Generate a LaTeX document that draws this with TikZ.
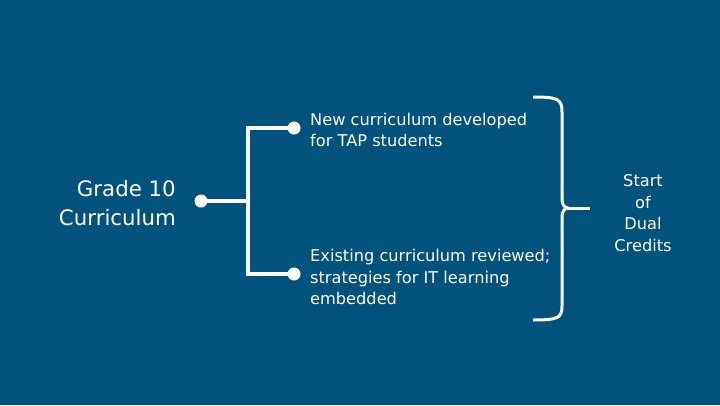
\documentclass[tikz,border=0pt]{standalone}
\usepackage{fontspec}
\setmainfont{DejaVu Sans}
\usepackage{tikz}
\definecolor{slate}{RGB}{1,82,125}
\tikzset{
  dot/.style={circle, fill=white, inner sep=0pt, minimum size=13pt},
  link/.style={white, line width=4pt},
  txt/.style={text=white, font=\fontsize{16.2}{21.5}\selectfont, inner sep=0pt}
}
\begin{document}
\begin{tikzpicture}[x=1pt, y=-1pt]
  \fill[slate] (0,0) rectangle (720,405);
  \useasboundingbox (0,0) rectangle (720,405);
  \node [dot] (root) at (201,201) {};
  \node [dot] (top) at (294,128) {};
  \node [dot] (bot) at (294,274) {};
  \coordinate (fork) at (248,201);
  \draw[link] (root.center) -- (fork) |- (top.center);
  \draw[link] (fork) |- (bot.center);
  \node [txt, font=\fontsize{21.3}{29}\selectfont, align=right, anchor=east] (grade) at (176,203) {Grade 10\\Curriculum};
  \node [txt, align=left, anchor=west] (new) at (310,130) {New curriculum developed\\for TAP students};
  \node [txt, align=left, anchor=west] (old) at (310,277) {Existing curriculum reviewed;\\strategies for IT learning\\embedded};
  \node [txt, align=center] (dual) at (643,213) {Start\\of\\Dual\\Credits};
  \draw[white, line width=3pt, line join=round]
    (533,97) .. controls (558,97) and (562,99) .. (562,112) -- (562,198)
    .. controls (562,205) and (564,207) .. (568,208) .. controls (564,209) and (562,211) .. (562,218)
    -- (562,306) .. controls (562,318) and (558,320) .. (533,320);
  \draw[white, line width=3pt] (566,208) -- (590,208);
\end{tikzpicture}
\end{document}
